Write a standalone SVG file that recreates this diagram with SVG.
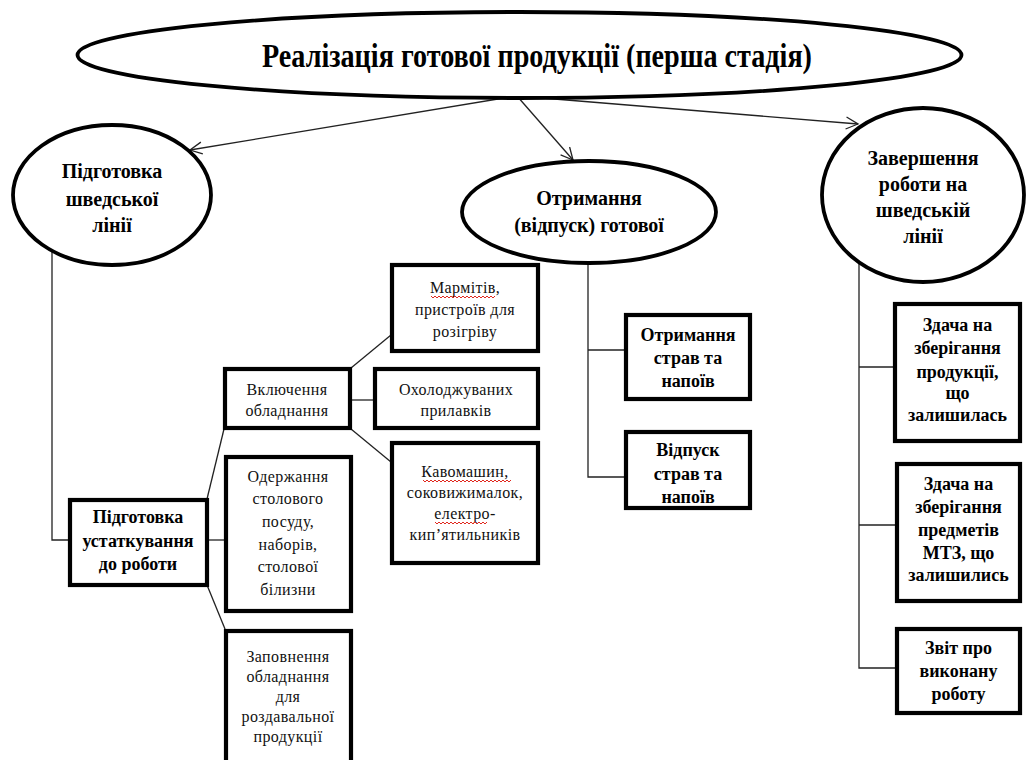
<svg xmlns="http://www.w3.org/2000/svg" width="1030" height="760" viewBox="0 0 1030 760">
  <defs>
    <marker id="arrow" markerUnits="userSpaceOnUse" markerWidth="16" markerHeight="16" refX="13" refY="7" orient="auto">
      <path d="M1,1 L13,7 L1,13" fill="none" stroke="#222" stroke-width="1.3"/>
    </marker>
    <style>
      .bg { fill: #ffffff; }
      .oval { fill: #ffffff; stroke: #000; stroke-width: 3.8; }
      .box { fill: #ffffff; stroke: #000; stroke-width: 4.2; }
      .link { fill: none; stroke: #222; stroke-width: 1.3; }
      .spell { fill: none; stroke: #e0281e; stroke-width: 1; }
      text { font-family: 'Liberation Serif', Tinos, 'DejaVu Serif', serif; fill: #000; text-anchor: middle; }
      .title { font-weight: bold; font-size: 34px; }
      .head { font-weight: bold; font-size: 20px; }
      .bold { font-weight: bold; font-size: 18px; }
      .plain { font-size: 16px; letter-spacing: 0.4px; fill: #111; }
    </style>
  </defs>

  <rect class="bg" x="0" y="0" width="1030" height="760"/>

  <!-- connectors -->
  <g id="connectors">
    <line class="link" x1="516" y1="96" x2="190" y2="150" marker-end="url(#arrow)"/>
    <line class="link" x1="517" y1="96" x2="573" y2="160" marker-end="url(#arrow)"/>
    <line class="link" x1="518" y1="96" x2="858" y2="124" marker-end="url(#arrow)"/>

    <!-- left branch -->
    <polyline class="link" points="52,240 52,540 70,540"/>
    <line class="link" x1="207" y1="499" x2="224" y2="429"/>
    <line class="link" x1="207" y1="540" x2="225" y2="540"/>
    <line class="link" x1="207" y1="585" x2="225" y2="629"/>
    <line class="link" x1="351" y1="368" x2="391" y2="335"/>
    <line class="link" x1="351" y1="400" x2="374" y2="400"/>
    <line class="link" x1="351" y1="429" x2="391" y2="462"/>

    <!-- middle branch -->
    <polyline class="link" points="588,250 588,477 625,477"/>
    <line class="link" x1="588" y1="350" x2="625" y2="350"/>

    <!-- right branch -->
    <polyline class="link" points="859,260 859,668 896,668"/>
    <line class="link" x1="859" y1="367" x2="894" y2="367"/>
    <line class="link" x1="859" y1="525" x2="896" y2="525"/>
  </g>

  <g id="stage">
    <ellipse class="oval" cx="519.5" cy="55" rx="442" ry="43"/>
    <text class="title" x="537" y="67" textLength="550" lengthAdjust="spacingAndGlyphs">Реалізація готової продукції (перша стадія)</text>
  </g>

  <g id="prep-line">
    <ellipse class="oval" cx="112" cy="195" rx="99" ry="70"/>
    <text class="head" x="112" y="178">Підготовка</text>
    <text class="head" x="112" y="206">шведської</text>
    <text class="head" x="112" y="232">лінії</text>
  </g>

  <g id="issue">
    <ellipse class="oval" cx="589" cy="212" rx="127" ry="51"/>
    <text class="head" x="589" y="205">Отримання</text>
    <text class="head" x="589" y="232">(відпуск) готової</text>
  </g>

  <g id="finish-line">
    <ellipse class="oval" cx="923" cy="195" rx="101" ry="87"/>
    <text class="head" x="923" y="165">Завершення</text>
    <text class="head" x="923" y="191">роботи на</text>
    <text class="head" x="923" y="217">шведській</text>
    <text class="head" x="923" y="243">лінії</text>
  </g>

  <g id="prep-equipment">
    <rect class="box" x="70" y="500" width="137" height="85"/>
    <text class="bold" x="138" y="523">Підготовка</text>
    <text class="bold" x="138" y="547">устаткування</text>
    <text class="bold" x="138" y="570">до роботи</text>
  </g>

  <g id="switch-on">
    <rect class="box" x="225" y="369" width="125" height="59"/>
    <text class="plain" x="287" y="395">Включення</text>
    <text class="plain" x="287" y="416">обладнання</text>
  </g>

  <g id="warmers">
    <rect class="box" x="392" y="265" width="146" height="86"/>
    <text class="plain" x="465" y="293">Мармітів,</text>
    <path class="spell" d="M431,296 l2,2 l2,-2 l2,2 l2,-2 l2,2 l2,-2 l2,2 l2,-2 l2,2 l2,-2 l2,2 l2,-2 l2,2 l2,-2 l2,2 l2,-2 l2,2 l2,-2 l2,2 l2,-2 l2,2 l2,-2 l2,2 l2,-2 l2,2 l2,-2 l2,2 l2,-2 l2,2 l2,-2 l2,2 l2,-2"/>
    <text class="plain" x="465" y="315">пристроїв для</text>
    <text class="plain" x="465" y="337">розігріву</text>
  </g>

  <g id="counters">
    <rect class="box" x="375" y="369" width="163" height="59"/>
    <text class="plain" x="456" y="395">Охолоджуваних</text>
    <text class="plain" x="456" y="416">прилавків</text>
  </g>

  <g id="coffee">
    <rect class="box" x="392" y="443" width="146" height="120"/>
    <text class="plain" x="465" y="477">Кавомашин,</text>
    <path class="spell" d="M423,480 l2,2 l2,-2 l2,2 l2,-2 l2,2 l2,-2 l2,2 l2,-2 l2,2 l2,-2 l2,2 l2,-2 l2,2 l2,-2 l2,2 l2,-2 l2,2 l2,-2 l2,2 l2,-2 l2,2 l2,-2 l2,2 l2,-2 l2,2 l2,-2 l2,2 l2,-2 l2,2 l2,-2 l2,2 l2,-2 l2,2 l2,-2 l2,2 l2,-2 l2,2 l2,-2 l2,2 l2,-2 l2,2 l2,-2 l2,2 l2,-2"/>
    <text class="plain" x="465" y="498">соковижималок,</text>
    <text class="plain" x="465" y="519">електро-</text>
    <path class="spell" d="M435,522 l2,2 l2,-2 l2,2 l2,-2 l2,2 l2,-2 l2,2 l2,-2 l2,2 l2,-2 l2,2 l2,-2 l2,2 l2,-2 l2,2 l2,-2 l2,2 l2,-2 l2,2 l2,-2 l2,2 l2,-2 l2,2 l2,-2 l2,2 l2,-2"/>
    <text class="plain" x="465" y="540">кип’ятильників</text>
  </g>

  <g id="tableware">
    <rect class="box" x="226" y="457" width="125" height="154"/>
    <text class="plain" x="288" y="482">Одержання</text>
    <text class="plain" x="288" y="504">столового</text>
    <text class="plain" x="288" y="527">посуду,</text>
    <text class="plain" x="288" y="550">наборів,</text>
    <text class="plain" x="288" y="572">столової</text>
    <text class="plain" x="288" y="595">білизни</text>
  </g>

  <g id="filling">
    <rect class="box" x="226" y="631" width="125" height="140"/>
    <text class="plain" x="288" y="662">Заповнення</text>
    <text class="plain" x="288" y="682">обладнання</text>
    <text class="plain" x="288" y="702">для</text>
    <text class="plain" x="288" y="722">роздавальної</text>
    <text class="plain" x="288" y="742">продукції</text>
  </g>

  <g id="receive">
    <rect class="box" x="626" y="315" width="124" height="84"/>
    <text class="bold" x="688" y="341">Отримання</text>
    <text class="bold" x="688" y="364">страв та</text>
    <text class="bold" x="688" y="387">напоїв</text>
  </g>

  <g id="dispense">
    <rect class="box" x="626" y="432" width="124" height="76"/>
    <text class="bold" x="688" y="456">Відпуск</text>
    <text class="bold" x="688" y="480">страв та</text>
    <text class="bold" x="688" y="503">напоїв</text>
  </g>

  <g id="store-food">
    <rect class="box" x="895" y="304" width="125" height="137"/>
    <text class="bold" x="957.5" y="331">Здача на</text>
    <text class="bold" x="957.5" y="354">зберігання</text>
    <text class="bold" x="957.5" y="378">продукції,</text>
    <text class="bold" x="957.5" y="399">що</text>
    <text class="bold" x="957.5" y="421">залишилась</text>
  </g>

  <g id="store-items">
    <rect class="box" x="897" y="464" width="123" height="137"/>
    <text class="bold" x="958.5" y="490">Здача на</text>
    <text class="bold" x="958.5" y="513">зберігання</text>
    <text class="bold" x="958.5" y="536">предметів</text>
    <text class="bold" x="958.5" y="559">МТЗ, що</text>
    <text class="bold" x="958.5" y="581">залишились</text>
  </g>

  <g id="report">
    <rect class="box" x="897" y="629" width="123" height="84"/>
    <text class="bold" x="958.5" y="654">Звіт про</text>
    <text class="bold" x="958.5" y="677">виконану</text>
    <text class="bold" x="958.5" y="700">роботу</text>
  </g>
</svg>
